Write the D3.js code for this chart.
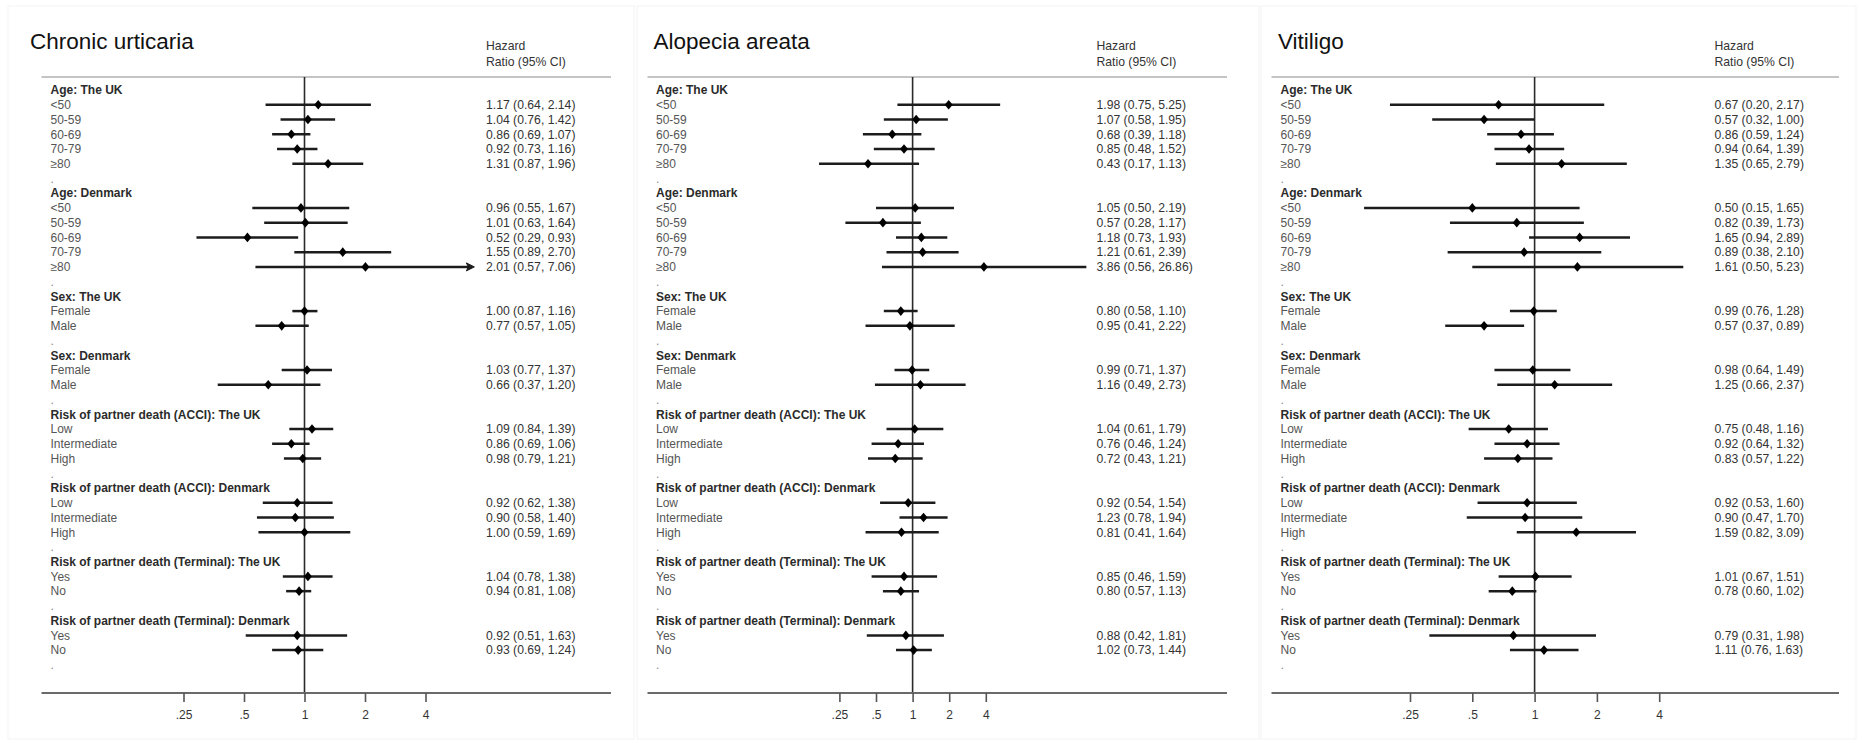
<!DOCTYPE html>
<html>
<head>
<meta charset="utf-8">
<script src="https://cdn.jsdelivr.net/npm/d3@7"></script>
<style>
  html, body { margin: 0; padding: 0; background: #fff; }
  svg { display: block; font-family: "Liberation Sans", Arial, sans-serif; }
</style>
</head>
<body>
<svg id="chart" width="1862" height="743"></svg>
<script>
// ---- Subgroups (same layout in every panel) ----
const groupTitles = [
  "Age: The UK", "Age: Denmark", "Sex: The UK", "Sex: Denmark",
  "Risk of partner death (ACCI): The UK", "Risk of partner death (ACCI): Denmark",
  "Risk of partner death (Terminal): The UK", "Risk of partner death (Terminal): Denmark"
];
const groupLevels = [
  ["<50", "50-59", "60-69", "70-79", "≥80"],
  ["<50", "50-59", "60-69", "70-79", "≥80"],
  ["Female", "Male"],
  ["Female", "Male"],
  ["Low", "Intermediate", "High"],
  ["Low", "Intermediate", "High"],
  ["Yes", "No"],
  ["Yes", "No"]
];

// ---- Hazard ratios with 95% CI, in subgroup order ----
const diseases = ["Chronic urticaria", "Alopecia areata", "Vitiligo"];

const hrUrticaria = [1.17, 1.04, 0.86, 0.92, 1.31,  0.96, 1.01, 0.52, 1.55, 2.01,  1.00, 0.77,  1.03, 0.66,  1.09, 0.86, 0.98,  0.92, 0.90, 1.00,  1.04, 0.94,  0.92, 0.93];
const loUrticaria = [0.64, 0.76, 0.69, 0.73, 0.87,  0.55, 0.63, 0.29, 0.89, 0.57,  0.87, 0.57,  0.77, 0.37,  0.84, 0.69, 0.79,  0.62, 0.58, 0.59,  0.78, 0.81,  0.51, 0.69];
const hiUrticaria = [2.14, 1.42, 1.07, 1.16, 1.96,  1.67, 1.64, 0.93, 2.70, 7.06,  1.16, 1.05,  1.37, 1.20,  1.39, 1.06, 1.21,  1.38, 1.40, 1.69,  1.38, 1.08,  1.63, 1.24];

const hrAlopecia = [1.98, 1.07, 0.68, 0.85, 0.43,  1.05, 0.57, 1.18, 1.21, 3.86,  0.80, 0.95,  0.99, 1.16,  1.04, 0.76, 0.72,  0.92, 1.23, 0.81,  0.85, 0.80,  0.88, 1.02];
const loAlopecia = [0.75, 0.58, 0.39, 0.48, 0.17,  0.50, 0.28, 0.73, 0.61, 0.56,  0.58, 0.41,  0.71, 0.49,  0.61, 0.46, 0.43,  0.54, 0.78, 0.41,  0.46, 0.57,  0.42, 0.73];
const hiAlopecia = [5.25, 1.95, 1.18, 1.52, 1.13,  2.19, 1.17, 1.93, 2.39, 26.86, 1.10, 2.22,  1.37, 2.73,  1.79, 1.24, 1.21,  1.54, 1.94, 1.64,  1.59, 1.13,  1.81, 1.44];

const hrVitiligo = [0.67, 0.57, 0.86, 0.94, 1.35,  0.50, 0.82, 1.65, 0.89, 1.61,  0.99, 0.57,  0.98, 1.25,  0.75, 0.92, 0.83,  0.92, 0.90, 1.59,  1.01, 0.78,  0.79, 1.11];
const loVitiligo = [0.20, 0.32, 0.59, 0.64, 0.65,  0.15, 0.39, 0.94, 0.38, 0.50,  0.76, 0.37,  0.64, 0.66,  0.48, 0.64, 0.57,  0.53, 0.47, 0.82,  0.67, 0.60,  0.31, 0.76];
const hiVitiligo = [2.17, 1.00, 1.24, 1.39, 2.79,  1.65, 1.73, 2.89, 2.10, 5.23,  1.28, 0.89,  1.49, 2.37,  1.16, 1.32, 1.22,  1.60, 1.70, 3.09,  1.51, 1.02,  1.98, 1.63];

// Axis ticks
const tickValues = [0.25, 0.5, 1, 2, 4];
const tickLabels = [".25", ".5", "1", "2", "4"];

// ---- Layout ----
const panelLayout = [
  { title: diseases[0], hr: hrUrticaria, lo: loUrticaria, hi: hiUrticaria,
    box: [8, 6, 626, 733], titleX: 30, labelX: 50.5, hrX: 486, ruleX: [41.5, 611],
    axisRange: [183.5, 425.5], clipMax: 7.0 },
  { title: diseases[1], hr: hrAlopecia, lo: loAlopecia, hi: hiAlopecia,
    box: [637, 6, 622, 733], titleX: 653.5, labelX: 656, hrX: 1096.5, ruleX: [647.5, 1227],
    axisRange: [839.4, 985.8], clipMax: 40 },
  { title: diseases[2], hr: hrVitiligo, lo: loVitiligo, hi: hiVitiligo,
    box: [1261, 6, 595, 733], titleX: 1278, labelX: 1280.5, hrX: 1714.5, ruleX: [1271.5, 1839],
    axisRange: [1410, 1659.2], clipMax: 40 }
];

const headerRuleY = 77;
const axisY = 693;
const firstRowY = 90;
const rowStep = 14.74;

// Flatten subgroups into display rows: header, levels, then a "." spacer
const rows = [];
let est = 0;
groupTitles.forEach((g, gi) => {
  rows.push({ kind: "header", label: g });
  groupLevels[gi].forEach(l => rows.push({ kind: "est", label: l, idx: est++ }));
  rows.push({ kind: "spacer", label: "." });
});

const y = d3.scaleLinear().domain([0, rows.length - 1])
  .range([firstRowY, firstRowY + (rows.length - 1) * rowStep]);

const f2 = d3.format(".2f");
const svg = d3.select("#chart");

panelLayout.forEach(p => {
  const g = svg.append("g");
  const x = d3.scaleLog().base(2).domain([0.25, 4]).range(p.axisRange);

  // faint panel frame
  g.append("rect")
    .attr("x", p.box[0]).attr("y", p.box[1]).attr("width", p.box[2]).attr("height", p.box[3])
    .attr("fill", "none").attr("stroke", "#f3f3f3").attr("stroke-width", 1);

  // title
  g.append("text").attr("x", p.titleX).attr("y", 49)
    .attr("font-size", 22.5).attr("fill", "#111").text(p.title);

  // column heading
  g.append("text").attr("x", p.hrX).attr("y", 49.5)
    .attr("font-size", 12.2).attr("fill", "#333").text("Hazard");
  g.append("text").attr("x", p.hrX).attr("y", 66)
    .attr("font-size", 12.2).attr("fill", "#333").text("Ratio (95% CI)");

  // rule under the heading
  g.append("line").attr("x1", p.ruleX[0]).attr("x2", p.ruleX[1])
    .attr("y1", headerRuleY).attr("y2", headerRuleY)
    .attr("stroke", "#c4c4c4").attr("stroke-width", 2);

  // null line at HR = 1
  g.append("line").attr("x1", x(1)).attr("x2", x(1))
    .attr("y1", headerRuleY).attr("y2", axisY)
    .attr("stroke", "#2a2a2a").attr("stroke-width", 1.6);

  // bottom axis
  g.append("line").attr("x1", p.ruleX[0]).attr("x2", p.ruleX[1])
    .attr("y1", axisY).attr("y2", axisY)
    .attr("stroke", "#6a6a6a").attr("stroke-width", 2);

  const axis = d3.axisBottom(x).tickValues(tickValues)
    .tickFormat((d, i) => tickLabels[i]).tickSize(9).tickPadding(8);
  const ag = g.append("g").attr("transform", `translate(0,${axisY})`).call(axis);
  ag.select(".domain").remove();
  ag.selectAll(".tick line").attr("stroke", "#555").attr("stroke-width", 1.6);
  ag.selectAll(".tick text").attr("font-size", 12).attr("fill", "#333")
    .attr("font-family", "\"Liberation Sans\", Arial, sans-serif");

  // row labels
  g.selectAll("text.row").data(rows).join("text")
    .attr("class", "row")
    .attr("x", p.labelX)
    .attr("y", (d, i) => y(i) + 4.3)
    .attr("font-size", 12)
    .attr("font-weight", d => d.kind === "header" ? "bold" : "normal")
    .attr("fill", d => d.kind === "header" ? "#2b2b2b" : (d.kind === "spacer" ? "#888" : "#555"))
    .text(d => d.label);

  const estRows = rows.map((r, i) => ({ ...r, i })).filter(r => r.kind === "est");

  // confidence intervals (clipped at the plot limit, with an arrow)
  const xClip = v => x(Math.min(v, p.clipMax));
  g.selectAll("line.ci").data(estRows).join("line")
    .attr("class", "ci")
    .attr("x1", d => x(p.lo[d.idx]))
    .attr("x2", d => xClip(p.hi[d.idx]) - (p.hi[d.idx] > p.clipMax ? 4 : 0))
    .attr("y1", d => y(d.i)).attr("y2", d => y(d.i))
    .attr("stroke", "#1c1c1c").attr("stroke-width", 2.5);

  g.selectAll("path.arrow").data(estRows.filter(d => p.hi[d.idx] > p.clipMax)).join("path")
    .attr("class", "arrow")
    .attr("d", d => {
      const tx = xClip(p.hi[d.idx]), ty = y(d.i);
      return `M${tx},${ty} L${tx - 8},${ty - 4} L${tx - 6},${ty} L${tx - 8},${ty + 4} Z`;
    })
    .attr("fill", "#1c1c1c").attr("stroke", "#1c1c1c").attr("stroke-width", 1);

  // point estimates
  g.selectAll("path.pt").data(estRows).join("path")
    .attr("class", "pt")
    .attr("d", d => {
      const cx = x(p.hr[d.idx]), cy = y(d.i);
      return `M${cx},${cy - 4.8} L${cx + 4},${cy} L${cx},${cy + 4.8} L${cx - 4},${cy} Z`;
    })
    .attr("fill", "#000");

  // HR (95% CI) text column
  g.selectAll("text.hr").data(estRows).join("text")
    .attr("class", "hr")
    .attr("x", p.hrX)
    .attr("y", d => y(d.i) + 4.3)
    .attr("font-size", 12.2)
    .attr("fill", "#333")
    .text(d => `${f2(p.hr[d.idx])} (${f2(p.lo[d.idx])}, ${f2(p.hi[d.idx])})`);
});
</script>
</body>
</html>
